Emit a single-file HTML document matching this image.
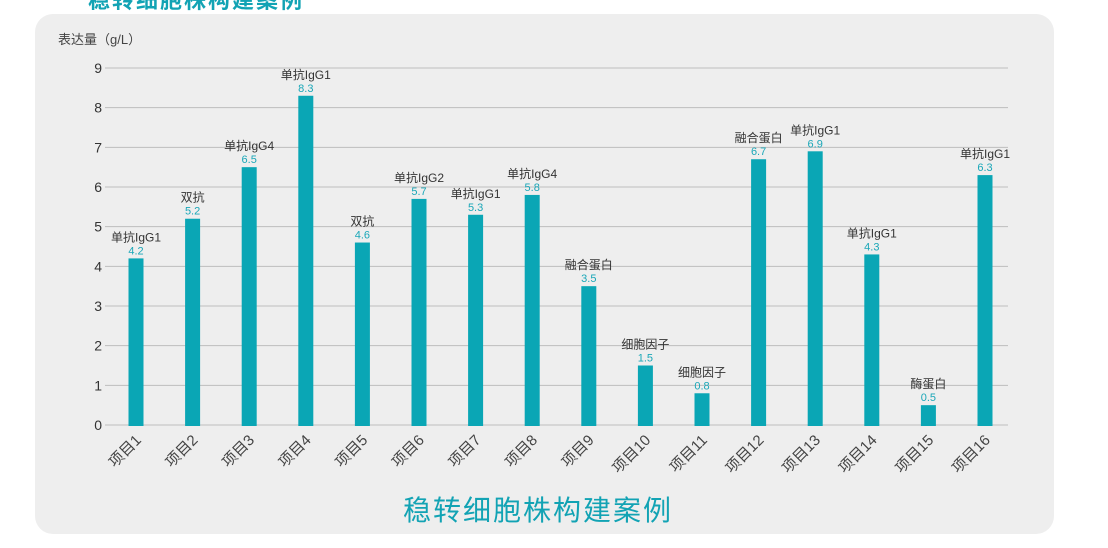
<!DOCTYPE html>
<html><head><meta charset="utf-8"><style>
body{margin:0;width:1108px;height:548px;background:#fff;overflow:hidden;font-family:"Liberation Sans","Noto Sans CJK SC",sans-serif;position:relative}
#top{position:absolute;left:88px;top:-17px;font-size:22px;color:#12a3b4;font-weight:bold;letter-spacing:2px}
#panel{position:absolute;left:35px;top:14px;width:1019px;height:520px;background:#eeeeee;border-radius:18px}
svg{position:absolute;left:0;top:0}
</style></head><body>
<div id="top">稳转细胞株构建案例</div>
<div id="panel"></div>
<svg id="chart" width="1108" height="548"></svg>
<script>
const categories=["项目1","项目2","项目3","项目4","项目5","项目6","项目7","项目8","项目9","项目10","项目11","项目12","项目13","项目14","项目15","项目16"];
const values=[4.2,5.2,6.5,8.3,4.6,5.7,5.3,5.8,3.5,1.5,0.8,6.7,6.9,4.3,0.5,6.3];
const types=["单抗IgG1","双抗","单抗IgG4","单抗IgG1","双抗","单抗IgG2","单抗IgG1","单抗IgG4","融合蛋白","细胞因子","细胞因子","融合蛋白","单抗IgG1","单抗IgG1","酶蛋白","单抗IgG1"];
const yTicks=[0,1,2,3,4,5,6,7,8,9];
const NS="http://www.w3.org/2000/svg";
const svg=document.getElementById('chart');
const x0=105,x1=1008,y0=425,yTop=68,yMax=9;
const y=v=>y0-(y0-yTop)*v/yMax;
const step=56.6,first=136;
const x=i=>first+i*step;
function mk(t,a,txt){const e=document.createElementNS(NS,t);for(const k in a)e.setAttribute(k,a[k]);if(txt!==undefined)e.textContent=txt;svg.appendChild(e);return e;}
const yt=mk('text',{x:58,y:44,'font-size':13,fill:'#444'},'表达量（g/L）');


yTicks.forEach(v=>{
 const l=mk('line',{x1:x0,x2:x1,y1:y(v),y2:y(v),stroke:'#bdbdbd','stroke-width':1});
 
 
 const t=mk('text',{x:102,y:y(v)+5,'font-size':14,fill:'#333','text-anchor':'end'},v);
 
 
});
categories.forEach((c,i)=>{
 const cx=x(i),v=values[i];
 const b=mk('rect',{x:cx-7.5,y:y(v),width:15,height:y0-y(v)+1,fill:'#0aa6b5'});
 
 
 const vl=mk('text',{x:cx,y:y(v)-4,'font-size':11,fill:'#1aa7b8','text-anchor':'middle'},v.toFixed(1));
 
 
 const tl=mk('text',{x:cx,y:y(v)-17,'font-size':12,fill:'#333','text-anchor':'middle'},types[i]);
 
 
 const xl=mk('text',{x:cx+6,y:y0+16,'font-size':15,fill:'#444','text-anchor':'end',transform:`rotate(-45 ${cx+6} ${y0+16})`},c);
 
 
});
const ti=mk('text',{x:538,y:520,'font-size':28,fill:'#12a3b4','text-anchor':'middle','letter-spacing':2},'稳转细胞株构建案例');


</script>
</body></html>
